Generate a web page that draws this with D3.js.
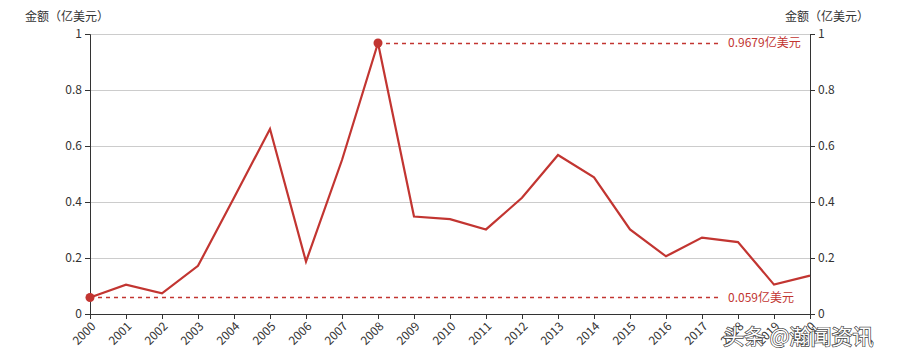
<!DOCTYPE html>
<html><head><meta charset="utf-8">
<script src="https://cdn.jsdelivr.net/npm/d3@7/dist/d3.min.js"></script>
<style>body{margin:0;background:#fff}svg{display:block;font-family:"Noto Sans CJK SC","Noto Sans",sans-serif}</style>
</head><body><svg id="c" width="900" height="350"></svg>
<script>
const years = ["2000","2001","2002","2003","2004","2005","2006","2007","2008","2009","2010","2011","2012","2013","2014","2015","2016","2017","2018","2019","2020"];
const values = [0.059,0.105,0.074,0.172,0.415,0.661,0.187,0.55,0.9679,0.348,0.339,0.302,0.415,0.568,0.488,0.302,0.206,0.273,0.257,0.105,0.137];
const yTicks = [0,0.2,0.4,0.6,0.8,1];
const axisName = "金额（亿美元）";
const markLabels = ["0.9679亿美元","0.059亿美元"];
const watermark = "头条 @瀚闻资讯";

const svg = d3.select("#c");
const L=90,R=810,T=34,B=314;
const color="#c23531";
const x = d3.scalePoint().domain(years).range([L,R]);
const y = d3.scaleLinear().domain([0,1]).range([B,T]);

// grid
svg.append("g").selectAll("line").data(yTicks.filter(d=>d>0)).join("line")
 .attr("x1",L).attr("x2",R).attr("y1",d=>y(d)).attr("y2",d=>y(d))
 .attr("stroke","#ccc").attr("stroke-width",1).attr("shape-rendering","crispEdges");

const fmt = d=>String(+d.toFixed(1));
const ly = svg.append("g").attr("transform",`translate(${L},0)`).call(d3.axisLeft(y).tickValues(yTicks).tickFormat(fmt).tickSizeOuter(0).tickSize(5).tickPadding(3));
const ry = svg.append("g").attr("transform",`translate(${R},0)`).call(d3.axisRight(y).tickValues(yTicks).tickFormat(fmt).tickSizeOuter(0).tickSize(5).tickPadding(3));
const xa = svg.append("g").attr("transform",`translate(0,${B})`).call(d3.axisBottom(x).tickSizeOuter(0).tickSize(5));
xa.selectAll(".tick text").attr("text-anchor","end").attr("x",null).attr("y",null)
  .attr("transform","translate(3,10) rotate(-45)").attr("dy","0.35em");
[ly,ry,xa].forEach(g=>{
  g.selectAll("text").attr("fill","#333").style("font-size","12px").style("font-family",'"Noto Sans CJK SC",sans-serif');
  g.selectAll("line,path").attr("stroke","#333");
});

// axis names
svg.append("text").attr("x",67).attr("y",21).attr("text-anchor","middle").attr("fill","#333").style("font-size","12px").text(axisName);
svg.append("text").attr("x",827).attr("y",21).attr("text-anchor","middle").attr("fill","#333").style("font-size","12px").text(axisName);

// line
svg.append("path").datum(values).attr("fill","none").attr("stroke",color).attr("stroke-width",2.2).attr("stroke-linejoin","miter")
 .attr("d",d3.line().x((d,i)=>x(years[i])).y(d=>y(d)));

// mark points & lines
const iMax = values.indexOf(d3.max(values)), iMin = values.indexOf(d3.min(values));
[[iMax,markLabels[0]],[iMin,markLabels[1]]].forEach(([i,lab])=>{
  const px=x(years[i]), py=y(values[i]);
  svg.append("path").attr("d",`M${px},${Math.round(py)+0.5}H720`)
    .attr("fill","none").style("stroke","#c23531").style("stroke-width","1.5px").style("stroke-dasharray","4,4");
  svg.append("circle").attr("cx",px).attr("cy",py).attr("r",4.5).attr("fill",color);
  svg.append("text").attr("x",728).attr("y",py).attr("dy","0.35em").attr("fill",color).style("font-size","12px").text(lab);
});

// watermark
svg.append("text").attr("x",723).attr("y",344).attr("text-anchor","start").style("font-size","21px")
 .attr("fill","#fff").attr("stroke","#444").attr("stroke-width",1.4).attr("paint-order","stroke").text(watermark);
</script></body></html>
